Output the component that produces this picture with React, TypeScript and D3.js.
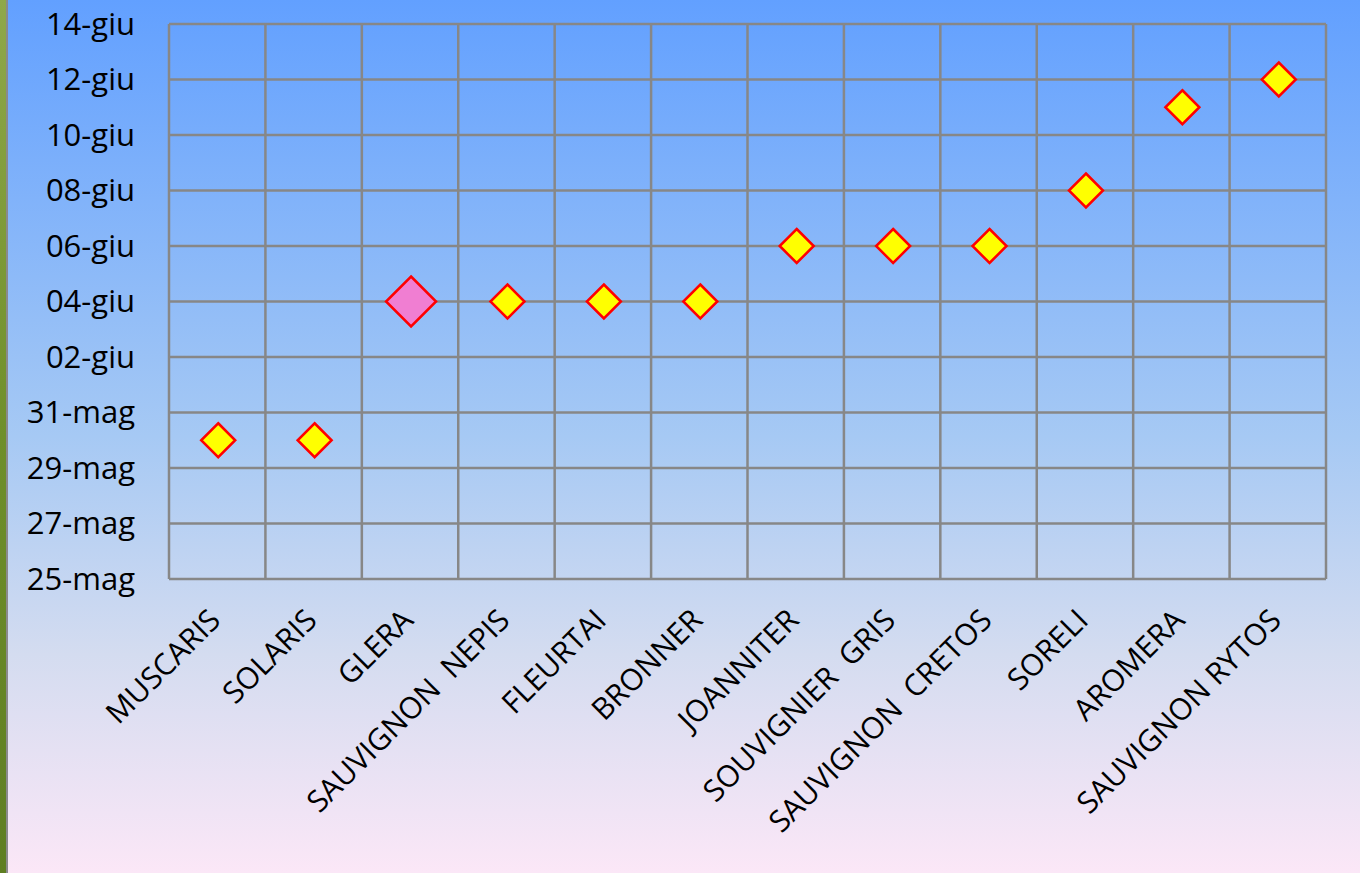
import React from "react";
import * as d3 from "d3";

const categories = [
  "MUSCARIS", "SOLARIS", "GLERA", "SAUVIGNON  NEPIS", "FLEURTAI", "BRONNER",
  "JOANNITER", "SOUVIGNIER  GRIS", "SAUVIGNON  CRETOS", "SORELI", "AROMERA", "SAUVIGNON RYTOS",
];
// dates (2000 used as reference year)
const dates = [
  "2000-05-30", "2000-05-30", "2000-06-04", "2000-06-04", "2000-06-04", "2000-06-04",
  "2000-06-06", "2000-06-06", "2000-06-06", "2000-06-08", "2000-06-11", "2000-06-12",
];
const highlighted = ["GLERA"];
const yMin = "2000-05-25";
const yMax = "2000-06-14";
const monthNames = ["gen", "feb", "mar", "apr", "mag", "giu", "lug", "ago", "set", "ott", "nov", "dic"];

const W = 1360, H = 873;
const M = { left: 169, right: 1326, top: 24, bottom: 579 };

export default function App() {
  const parse = d3.timeParse("%Y-%m-%d");
  const x = d3.scaleBand<string>().domain(categories).range([M.left, M.right]);
  const y = d3.scaleTime().domain([parse(yMin)!, parse(yMax)!]).range([M.bottom, M.top]);
  const ticks = d3.timeDay.range(parse(yMin)!, d3.timeDay.offset(parse(yMax)!, 1), 2);
  const fmt = (d: Date) => `${String(d.getDate()).padStart(2, "0")}-${monthNames[d.getMonth()]}`;
  const diamond = (cx: number, cy: number, r: number) =>
    `M${cx},${cy - r}L${cx + r},${cy}L${cx},${cy + r}L${cx - r},${cy}Z`;
  const grid = "#878787";
  const font = "'Open Sans', sans-serif";
  return (
    <svg width={W} height={H} style={{ position: "fixed", left: 0, top: 0 }}>
      <defs>
        <linearGradient id="bg" x1="0" y1="0" x2="0" y2="1">
          <stop offset="0" stopColor="#62A0FF" />
          <stop offset="0.5" stopColor="#A6C9F4" />
          <stop offset="0.75" stopColor="#D4DCF0" />
          <stop offset="1" stopColor="#FBE7F7" />
        </linearGradient>
        <linearGradient id="leaf" x1="0" y1="0" x2="0" y2="1">
          <stop offset="0" stopColor="#8FA84A" />
          <stop offset="0.5" stopColor="#6F8F2A" />
          <stop offset="1" stopColor="#5E7E22" />
        </linearGradient>
      </defs>
      <rect x={0} y={0} width={W} height={H} fill="url(#bg)" />
      <rect x={0} y={0} width={6} height={H} fill="url(#leaf)" />
      <line x1={7} x2={7} y1={0} y2={H} stroke="#8A8A8A" strokeWidth={2} />
      {ticks.map((t, i) => (
        <line key={"h" + i} x1={M.left} x2={M.right} y1={y(t)} y2={y(t)} stroke={grid} strokeWidth={2.5} />
      ))}
      {categories.map((c, i) => (
        <line key={"v" + i} x1={x(c)!} x2={x(c)!} y1={M.top} y2={M.bottom} stroke={grid} strokeWidth={2.5} />
      ))}
      <line x1={M.right} x2={M.right} y1={M.top} y2={M.bottom} stroke={grid} strokeWidth={2.5} />
      {ticks.map((t, i) => (
        <text key={"yl" + i} x={135} y={y(t)} dy="0.35em" textAnchor="end" fontFamily={font} fontSize={31} fill="#000">
          {fmt(t)}
        </text>
      ))}
      {categories.map((c, i) => {
        const cx = x(c)! + x.bandwidth() / 2 + 5;
        const cy = 622;
        return (
          <text key={"xl" + i} transform={`translate(${cx},${cy}) rotate(-45)`} textAnchor="end"
            fontFamily={font} fontSize={30} fill="#000" style={{ whiteSpace: "pre" }}>
            {c}
          </text>
        );
      })}
      {categories.map((c, i) => {
        const cx = x(c)! + x.bandwidth() / 2 + 1;
        const cy = y(parse(dates[i])!);
        const big = highlighted.includes(c);
        return (
          <path key={"m" + i} d={diamond(cx, cy, big ? 25 : 17)} fill={big ? "#F07ED2" : "#FFFF00"}
            stroke="#FF0000" strokeWidth={2.5} />
        );
      })}
    </svg>
  );
}
